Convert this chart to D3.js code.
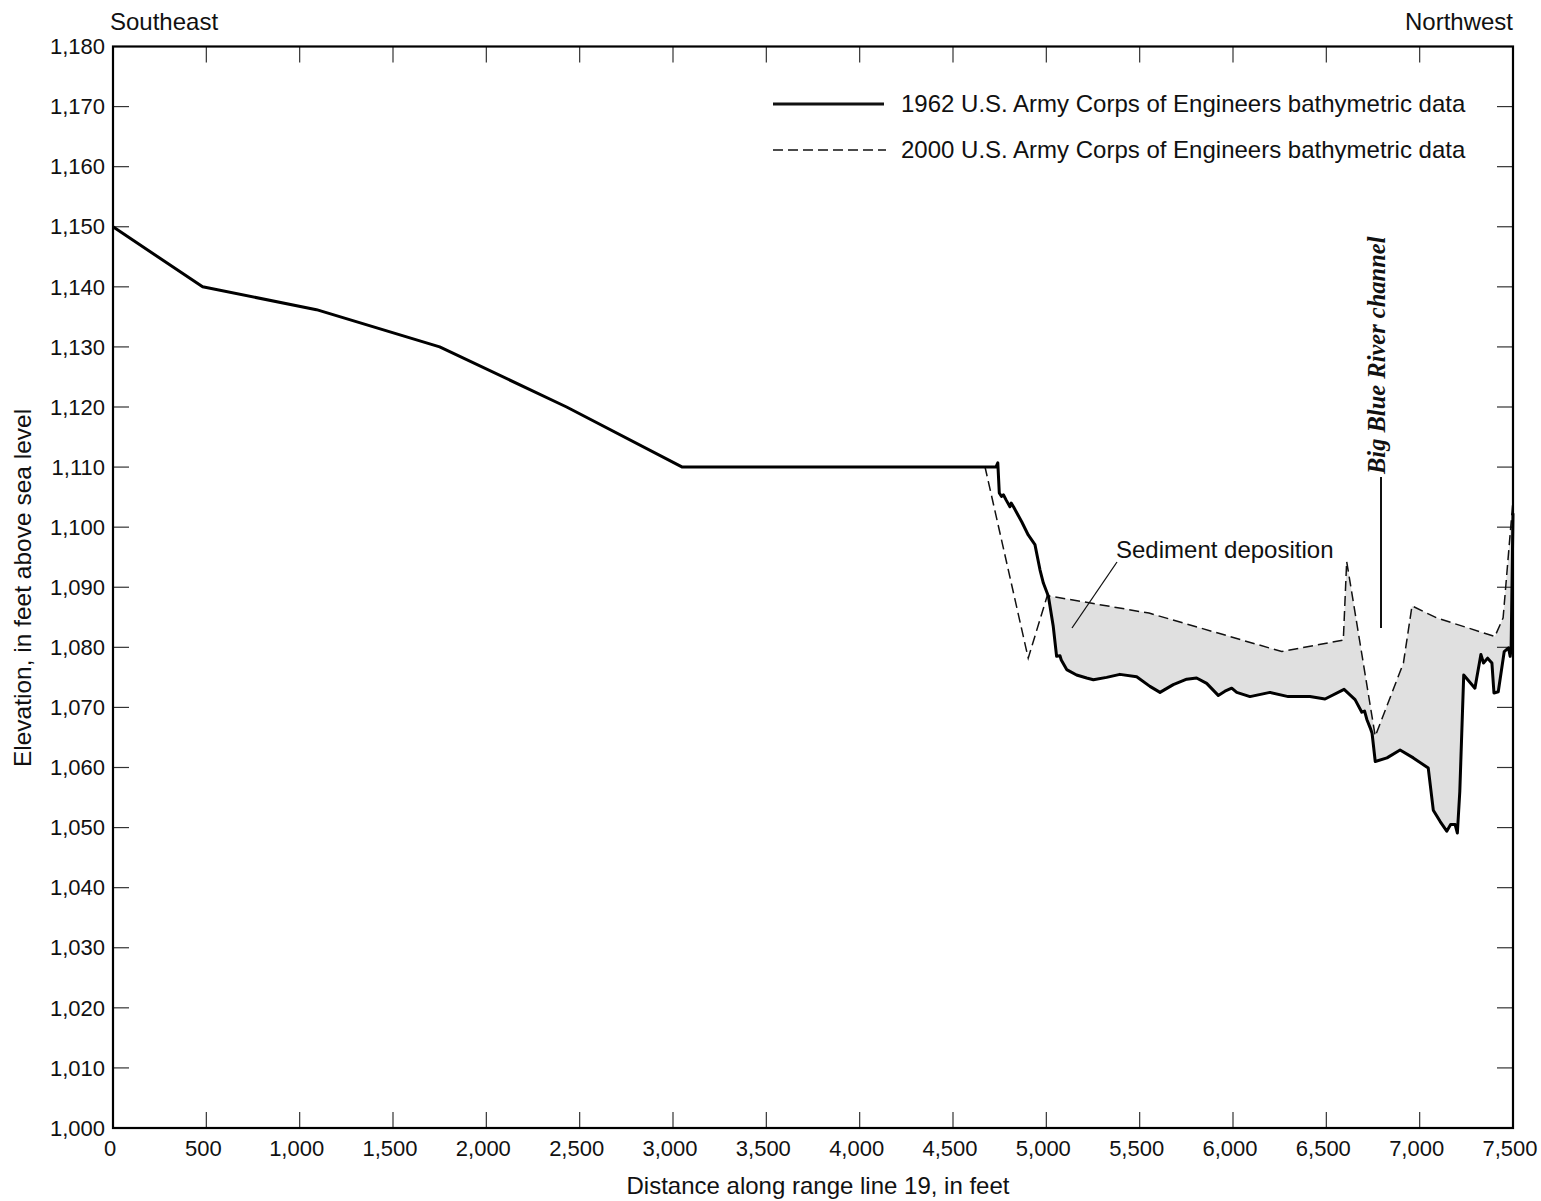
<!DOCTYPE html>
<html>
<head>
<meta charset="utf-8">
<script src="https://cdn.jsdelivr.net/npm/d3@7"></script>
<style>
  body { margin: 0; background: #fff; }
  text { font-family: "Liberation Sans", Arial, sans-serif; fill: #111; }
</style>
</head>
<body>
<script>
// 1962 survey (distance ft, elevation ft)
const dist1962 = [0, 480, 1090, 1750, 2430, 3050, 4730, 4740, 4748, 4760, 4770, 4785, 4805, 4812, 4824, 4868, 4903, 4939, 4966, 4984, 5011, 5037, 5055, 5073, 5080, 5109, 5162, 5216, 5252, 5323, 5394, 5484, 5555, 5609, 5680, 5752, 5805, 5859, 5921, 5957, 5993, 6020, 6091, 6198, 6296, 6412, 6493, 6595, 6654, 6690, 6705, 6717, 6735, 6745, 6762, 6825, 6895, 6966, 7046, 7073, 7110, 7145, 7166, 7190, 7202, 7215, 7236, 7296, 7328, 7342, 7364, 7387, 7398, 7421, 7453, 7476, 7485, 7490, 7500]
const elev1962 = [1150, 1140, 1136.2, 1130, 1120, 1110, 1110, 1110.7, 1105.7, 1105.1, 1105.4, 1104.5, 1103.4, 1104, 1103.4, 1100.9, 1098.7, 1097.1, 1092.9, 1090.7, 1088.5, 1083.5, 1078.5, 1078.6, 1077.9, 1076.3, 1075.4, 1074.9, 1074.6, 1075, 1075.5, 1075.1, 1073.5, 1072.5, 1073.8, 1074.7, 1074.9, 1074, 1072, 1072.7, 1073.2, 1072.5, 1071.8, 1072.5, 1071.8, 1071.8, 1071.4, 1073, 1071.3, 1069.2, 1069.4, 1068, 1066.6, 1065.7, 1061, 1061.6, 1062.9, 1061.6, 1059.9, 1052.9, 1051, 1049.4, 1050.5, 1050.5, 1049.1, 1056, 1075.4, 1073.2, 1078.8, 1077.4, 1078.2, 1077.4, 1072.4, 1072.6, 1079.3, 1079.9, 1078.5, 1080, 1102.3]

// 2000 survey
const dist2000 = [4671, 4903, 5005, 5550, 6261, 6591, 6609, 6762, 6913, 6959, 7091, 7403, 7447, 7500]
const elev2000 = [1110.1, 1078.2, 1088.6, 1085.7, 1079.3, 1081.2, 1094.3, 1065.2, 1077.4, 1086.9, 1084.9, 1081.8, 1084.9, 1104.5]

const xTicks = d3.range(0, 7501, 500)
const yTicks = d3.range(1000, 1181, 10)

const legendLabels = ['1962 U.S. Army Corps of Engineers bathymetric data', '2000 U.S. Army Corps of Engineers bathymetric data']

const width = 1541
const height = 1201
const margin = ({ top: 46.5, right: 28, left: 113, bottom: 73 })

const svg = d3.select('body')
    .append('svg')
    .attr('width', width)
    .attr('height', height)
    .attr('viewBox', [0, 0, width, height])

const x = d3.scaleLinear()
    .domain([0, 7500])
    .range([margin.left, width - margin.right])

const y = d3.scaleLinear()
    .domain([1000, 1180])
    .range([height - margin.bottom, margin.top])

const data1962 = dist1962.map((d, i) => [d, elev1962[i]])
const data2000 = dist2000.map((d, i) => [d, elev2000[i]])

// shaded deposition area: between 1962 bottom and 2000 surface, where 2000 is higher
const interp = (xs, ys, v) => {
    const i = Math.max(1, Math.min(xs.length - 1, d3.bisectLeft(xs, v)))
    const t = (v - xs[i - 1]) / (xs[i] - xs[i - 1])
    return ys[i - 1] + t * (ys[i] - ys[i - 1])
}
const fillStart = 5008
const fillX = Array.from(new Set([fillStart, ...dist1962, ...dist2000]))
    .filter(d => d >= fillStart && d <= 7500)
    .sort((a, b) => a - b)
const fillData = fillX.map(d => {
    const lo = interp(dist1962, elev1962, d)
    const hi = interp(dist2000, elev2000, d)
    return { d, lo, hi: Math.max(lo, hi) }
})

svg.append('path')
    .datum(fillData)
    .attr('fill', '#e0e0e0')
    .attr('d', d3.area()
        .x(d => x(d.d))
        .y0(d => y(d.lo))
        .y1(d => y(d.hi)))

// ticks (inside, all four sides)
const tickLen = 16
const tickG = svg.append('g').attr('stroke', '#333').attr('stroke-width', 1.2)
xTicks.slice(1, -1).forEach(t => {
    tickG.append('line').attr('x1', x(t)).attr('x2', x(t)).attr('y1', y(1180)).attr('y2', y(1180) + tickLen)
    tickG.append('line').attr('x1', x(t)).attr('x2', x(t)).attr('y1', y(1000)).attr('y2', y(1000) - tickLen)
})
yTicks.slice(1, -1).forEach(t => {
    tickG.append('line').attr('x1', x(0)).attr('x2', x(0) + tickLen).attr('y1', y(t)).attr('y2', y(t))
    tickG.append('line').attr('x1', x(7500)).attr('x2', x(7500) - tickLen).attr('y1', y(t)).attr('y2', y(t))
})

// tick labels
svg.append('g')
    .selectAll('text')
    .data(xTicks)
    .join('text')
    .attr('x', d => x(d) - 3)
    .attr('y', height - margin.bottom + 28)
    .attr('text-anchor', 'middle')
    .attr('font-size', 22)
    .text(d => d3.format(',')(d))

svg.append('g')
    .selectAll('text')
    .data(yTicks)
    .join('text')
    .attr('x', margin.left - 8)
    .attr('y', d => y(d))
    .attr('dy', '0.35em')
    .attr('text-anchor', 'end')
    .attr('font-size', 22)
    .text(d => d3.format(',')(d))

// lines
const line = d3.line().x(d => x(d[0])).y(d => y(d[1]))

svg.append('path')
    .datum(data2000)
    .attr('fill', 'none')
    .attr('stroke', '#111')
    .attr('stroke-width', 1.5)
    .attr('stroke-dasharray', '10,5')
    .attr('d', line)

svg.append('path')
    .datum(data1962)
    .attr('fill', 'none')
    .attr('stroke', '#000')
    .attr('stroke-width', 3)
    .attr('stroke-linejoin', 'round')
    .attr('d', line)

// frame
svg.append('rect')
    .attr('x', x(0))
    .attr('y', y(1180))
    .attr('width', x(7500) - x(0))
    .attr('height', y(1000) - y(1180))
    .attr('fill', 'none')
    .attr('stroke', '#000')
    .attr('stroke-width', 2.2)

// legend
const legend = svg.append('g')
legendLabels.forEach((lab, i) => {
    const ly = 104 + i * 46
    legend.append('line')
        .attr('x1', 773).attr('x2', i === 0 ? 884 : 886)
        .attr('y1', ly).attr('y2', ly)
        .attr('stroke', '#111')
        .attr('stroke-width', i === 0 ? 3 : 1.5)
        .attr('stroke-dasharray', i === 0 ? null : '10,5')
    legend.append('text')
        .attr('x', 901)
        .attr('y', ly)
        .attr('dy', '0.35em')
        .attr('font-size', 24)
        .text(lab)
})

// annotations
svg.append('text').attr('x', 110).attr('y', 30).attr('font-size', 24).text('Southeast')
svg.append('text').attr('x', x(7500)).attr('y', 30).attr('text-anchor', 'end').attr('font-size', 24).text('Northwest')

svg.append('line')
    .attr('x1', 1117).attr('y1', 562).attr('x2', 1072).attr('y2', 628)
    .attr('stroke', '#111').attr('stroke-width', 1.3)
svg.append('text').attr('x', 1116).attr('y', 558).attr('font-size', 24).text('Sediment deposition')

svg.append('line')
    .attr('x1', 1381).attr('y1', 477).attr('x2', 1381).attr('y2', 628)
    .attr('stroke', '#111').attr('stroke-width', 2)
svg.append('text')
    .attr('transform', 'translate(1385,474) rotate(-90)')
    .style('font-family', '"Liberation Serif", "Times New Roman", serif')
    .style('font-weight', 'bold')
    .style('font-style', 'italic')
    .attr('font-size', 24.5)
    .text('Big Blue River channel')

// axis titles
svg.append('text')
    .attr('x', (x(0) + x(7500)) / 2 + 5)
    .attr('y', 1194)
    .attr('text-anchor', 'middle')
    .attr('font-size', 24)
    .text('Distance along range line 19, in feet')

svg.append('text')
    .attr('transform', `translate(31,588) rotate(-90)`)
    .attr('text-anchor', 'middle')
    .attr('font-size', 24.5)
    .text('Elevation, in feet above sea level')
</script>
</body>
</html>
